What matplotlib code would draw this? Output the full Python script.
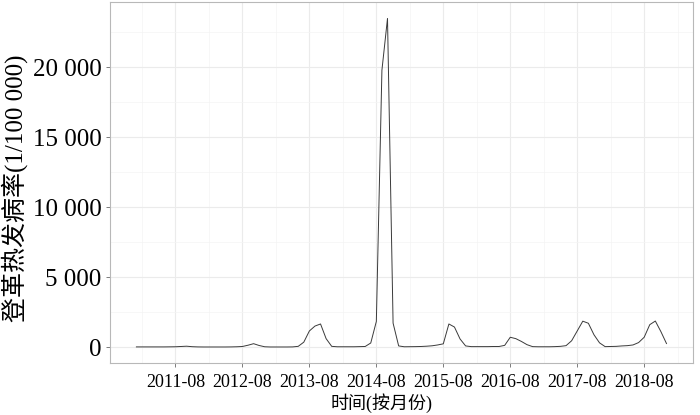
import numpy as np
import matplotlib
matplotlib.use('Agg')
import matplotlib.pyplot as plt
from matplotlib.ticker import FuncFormatter, FixedLocator, MultipleLocator

# monthly dengue incidence, Jan..Dec of each year
y2011 = [10, 10, 10, 10, 10, 10, 15, 20, 40, 60, 25, 10]
y2012 = [5, 5, 5, 5, 5, 10, 20, 40, 130, 240, 110, 20]
y2013 = [5, 5, 5, 5, 10, 50, 350, 1150, 1500, 1650, 600, 50]
y2014 = [20, 20, 20, 20, 30, 40, 290, 1830, 19800, 23500, 1710, 80]
y2015 = [20, 25, 30, 40, 60, 90, 150, 230, 1650, 1430, 580, 80]
y2016 = [30, 30, 30, 30, 40, 40, 120, 700, 600, 400, 170, 30]
y2017 = [20, 20, 20, 30, 50, 100, 450, 1150, 1850, 1700, 880, 300]
y2018 = [30, 40, 50, 80, 100, 150, 320, 700, 1600, 1860, 1100, 250]

tick_labels = ['2011-08', '2012-08', '2013-08', '2014-08',
               '2015-08', '2016-08', '2017-08', '2018-08']

rate = np.concatenate([y2011, y2012, y2013, y2014, y2015, y2016, y2017, y2018])
month = np.arange(len(rate))          # 0 = 2011-01
tick_pos = [12 * i + 7 for i in range(len(tick_labels))]

plt.rcParams['font.family'] = ['Liberation Serif', 'Noto Sans CJK SC']

fig = plt.figure(figsize=(7, 4.15), dpi=100)
ax = fig.add_axes([0.157, 0.125, 0.833, 0.870])

ax.plot(month, rate, color='#3a3a3a', lw=0.7)

ax.set_xlim(-4.75, 99.75)
ax.set_ylim(-1150, 24670)

ax.xaxis.set_major_locator(FixedLocator(tick_pos))
ax.xaxis.set_minor_locator(FixedLocator([t - 6 for t in tick_pos] + [tick_pos[-1] + 6]))
ax.set_xticklabels(tick_labels)
ax.yaxis.set_major_locator(MultipleLocator(5000))
ax.yaxis.set_minor_locator(MultipleLocator(2500))
ax.yaxis.set_major_formatter(FuncFormatter(lambda v, p: f'{int(v):,}'.replace(',', ' ')))

ax.grid(which='major', color='#ebebeb', lw=0.8)
ax.grid(which='minor', color='#f4f4f4', lw=0.5)
ax.set_axisbelow(True)

for s in ax.spines.values():
    s.set_color('#b8b8b8')
    s.set_linewidth(0.8)

ax.tick_params(which='major', length=3, color='#666666', width=0.6)
ax.tick_params(which='minor', length=0)
ax.tick_params(axis='y', labelsize=18, pad=3)
ax.tick_params(axis='x', labelsize=13, pad=5)

fig.text(15 / 700, 1 - 188 / 415, '登革热发病率(1/100 000)', rotation=90,
         ha='center', va='center', fontsize=18)
fig.text(382 / 700, 1 - 403 / 415, '时间(按月份)', ha='center', va='center', fontsize=13)

fig.savefig('out.png', dpi=100)
